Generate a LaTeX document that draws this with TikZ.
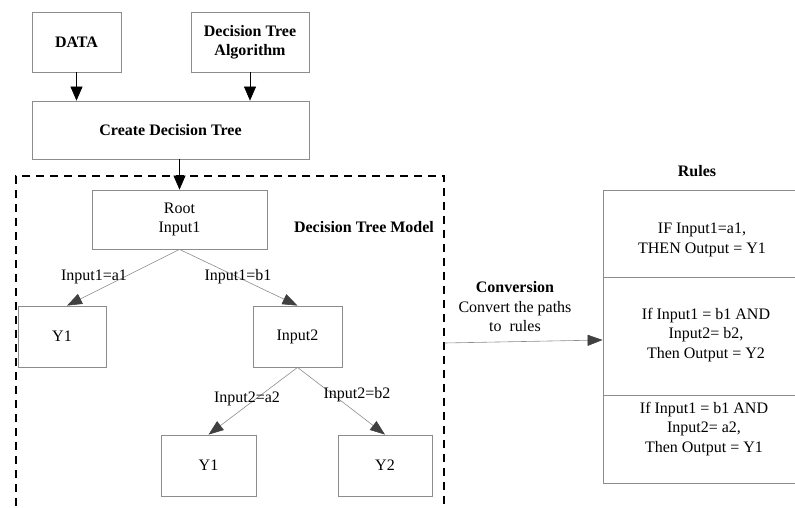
\documentclass[tikz,border=0pt]{standalone}
\usepackage{fontspec}
\setmainfont{Liberation Serif}
\usetikzlibrary{arrows.meta,positioning}
\definecolor{dtgray}{HTML}{8C8C8C}
\definecolor{dttip}{HTML}{404040}

\begin{document}
\begin{tikzpicture}[x=1pt,y=-1pt,
    font=\fontsize{16}{19.5}\selectfont,
    dtbox/.style={draw, dtgray, line width=0.8pt, rectangle, inner sep=0pt, text=black, align=center},
    toparrow/.style={-{Triangle[length=14pt,width=12pt]}, black, line width=0.6pt},
    treearrow/.style={-{Triangle[length=15pt,width=11pt,color=dttip]}, dtgray, line width=0.6pt}]
    \useasboundingbox (0,0) rectangle (795,508);

    % input side
    \node[dtbox, minimum width=89, minimum height=60] (data) at (76.5,42) {\textbf{DATA}};
    \node[dtbox, minimum width=118, minimum height=60] (algo) at (250,42) {\textbf{Decision Tree}\\\textbf{Algorithm}};
    \node[dtbox, minimum width=277, minimum height=58] (create) at (170.5,130) {\textbf{Create Decision Tree}};

    % model
    \node[draw, black, dashed, dash pattern=on 8pt off 6pt, line width=1.3pt, inner sep=0pt,
          minimum width=428, minimum height=334] (model) at (230,343) {};
    \node (modellbl) at (364,227) {\textbf{Decision Tree Model}};
    \node[dtbox, minimum width=175, minimum height=59] (root) at (179.5,219.5) {Root\\Input1};
    \node[dtbox, minimum width=88, minimum height=61] (leafa) at (62,336.5) {Y1};
    \node[dtbox, minimum width=89, minimum height=61] (input2) at (297.5,336.5) {Input2};
    \node[dtbox, minimum width=95, minimum height=61] (leafb) at (208.5,465.5) {Y1};
    \node[dtbox, minimum width=94, minimum height=61] (leafc) at (385,465.5) {Y2};

    % rules
    \node (ruleslbl) at (697,171) {\textbf{Rules}};
    \node[dtbox, minimum width=204, minimum height=87] (rule1) at (705,233.5) {};
    \node[dtbox, minimum width=204, minimum height=118] (rule2) at (705,336) {};
    \node[dtbox, minimum width=204, minimum height=88] (rule3) at (705,439) {};
    \node[align=center] (rule1txt) at (702,240) {IF Input1=a1,\\THEN Output = Y1};
    \node[align=center] (rule2txt) at (706,335) {If Input1 = b1 AND\\Input2= b2,\\Then Output = Y2};
    \node[align=center] (rule3txt) at (704,429) {If Input1 = b1 AND\\Input2= a2,\\Then Output = Y1};

    \draw[toparrow] (data.south) -- (data.south |- create.north);
    \draw[toparrow] (algo.south) -- (algo.south |- create.north);
    \draw[toparrow] (root.north |- create.south) -- (root.north);

    \draw[treearrow] (root.south) -- ([xshift=5pt]leafa.north);
    \draw[treearrow] (root.south) -- (input2.north);
    \draw[treearrow] (input2.south) -- (leafb.north);
    \draw[treearrow] (input2.south) -- (leafc.north);
    \node (lbla1) at (94,277) {Input1=a1};
    \node (lblb1) at (238,277) {Input1=b1};
    \node (lbla2) at (247,399) {Input2=a2};
    \node (lblb2) at (357,395) {Input2=b2};

    \draw[treearrow] (model.east) -- ([yshift=-4pt]rule2.west);
    \node[align=center] (convlbl) at (515,307) {\textbf{Conversion}\\Convert the paths\\to\ \ rules};
\end{tikzpicture}
\end{document}
